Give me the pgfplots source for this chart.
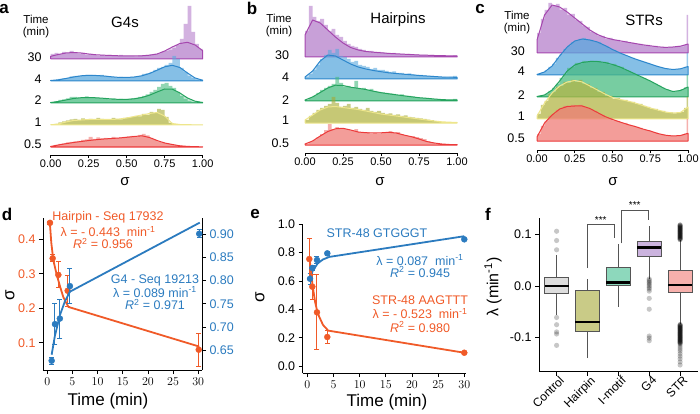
\documentclass[border=0pt]{standalone}
\usepackage{fontspec}
\setmainfont{Liberation Sans}
\usepackage{pgfplots}
\usepackage{pgfplotstable}
\pgfplotsset{compat=1.18}
\usepgfplotslibrary{statistics}

% ridge colours: L line, F histogram, D density fill
\definecolor{Lt30}{HTML}{A547AE}\definecolor{Ft30}{HTML}{B57FCB}\definecolor{Dt30}{HTML}{B57FCB}
\definecolor{Lt4}{HTML}{2D87CC}\definecolor{Ft4}{HTML}{5AA8DD}\definecolor{Dt4}{HTML}{5AA8DD}
\definecolor{Lt2}{HTML}{25A35E}\definecolor{Ft2}{HTML}{48BB80}\definecolor{Dt2}{HTML}{48BB80}
\definecolor{Lt1}{HTML}{EEE68C}\definecolor{Ft1}{HTML}{A5AA35}\definecolor{Dt1}{HTML}{EEE68C}
\definecolor{Lt05}{HTML}{EC3A3A}\definecolor{Ft05}{HTML}{EF7B76}\definecolor{Dt05}{HTML}{EF7B76}
\definecolor{orangeC}{HTML}{F05A28}
\definecolor{blueC}{HTML}{2B7BBF}
\definecolor{boxline}{HTML}{555555}
\definecolor{cCtrl}{HTML}{DDDDDD}
\definecolor{cHair}{HTML}{C9CB87}
\definecolor{cImot}{HTML}{8DD8BC}
\definecolor{cG4}{HTML}{CBB3DE}
\definecolor{cSTR}{HTML}{F7B0AC}

% ---- panel a: G4s ----
\pgfplotstableread{
x t30 t4 t2 t1 t05
0 0 0 0 0 0
0 0.5 0.05 0.05 0.02 0.1
0.025 0.6 0.1 0.15 0.1 0.2
0.05 0.5 0.2 0.3 0.25 0.3
0.075 0.7 0.25 0.35 0.35 0.35
0.1 0.6 0.3 0.45 0.45 0.45
0.125 0.8 0.45 0.6 0.55 0.5
0.15 0.6 0.5 0.6 0.6 0.55
0.175 0.5 0.5 0.5 0.5 0.6
0.2 0.6 0.55 0.55 0.65 0.7
0.225 0.4 0.6 0.65 0.55 0.75
0.25 0.5 0.6 0.5 0.6 1.0
0.275 0.4 0.55 0.55 0.5 0.8
0.3 0.3 0.5 0.5 0.7 0.95
0.325 0.4 0.6 0.45 0.6 0.85
0.35 0.3 0.5 0.4 0.55 0.9
0.375 0.4 0.45 0.35 0.5 0.8
0.4 0.3 0.4 0.45 0.7 1.0
0.425 0.3 0.35 0.35 0.6 0.9
0.45 0.4 0.4 0.4 0.55 0.95
0.475 0.3 0.3 0.35 0.7 1.0
0.5 0.3 0.35 0.4 0.75 1.05
0.525 0.3 0.4 0.45 0.8 1.1
0.55 0.25 0.45 0.5 0.9 1.0
0.575 0.35 0.5 0.6 0.85 1.2
0.6 0.3 0.7 0.7 1.1 1.3
0.625 0.4 0.75 0.85 1.0 1.15
0.65 0.45 0.9 1.1 1.3 0.9
0.675 0.5 1.1 1.3 1.2 0.7
0.7 0.55 1.3 1.6 1.6 0.55
0.725 0.7 1.4 1.9 1.5 0.45
0.75 0.8 1.6 2.0 0.8 0.35
0.775 0.9 1.8 1.7 0.2 0.3
0.8 1.1 2.5 1.5 0.05 0.2
0.825 1.4 2.2 1.1 0.02 0.15
0.85 2.0 1.3 0.7 0.02 0.1
0.875 3.5 0.9 0.4 0.01 0.08
0.9 5.3 0.5 0.2 0.01 0.05
0.925 2.7 0.3 0.1 0.01 0.04
0.95 1.5 0.15 0.05 0.01 0.03
0.975 1.0 0.05 0.02 0.01 0.02
1 1.0 0.05 0.02 0.01 0.02
1 0 0 0 0 0
}\histA
\pgfplotstableread{
x t30 t4 t2 t1 t05
0 0 0 0 0 0
0 0.27 0.05 0.05 0.02 0.05
0.05 0.45 0.12 0.15 0.1 0.2
0.1 0.6 0.25 0.3 0.3 0.33
0.15 0.65 0.4 0.45 0.45 0.45
0.2 0.6 0.52 0.53 0.5 0.55
0.25 0.5 0.57 0.55 0.55 0.65
0.3 0.42 0.55 0.52 0.55 0.73
0.35 0.38 0.5 0.47 0.55 0.8
0.4 0.35 0.42 0.4 0.55 0.85
0.45 0.32 0.36 0.36 0.6 0.9
0.5 0.3 0.35 0.36 0.7 0.97
0.55 0.3 0.4 0.42 0.85 1.05
0.6 0.32 0.52 0.55 1.0 1.12
0.65 0.38 0.75 0.78 1.15 0.95
0.7 0.5 1.08 1.1 1.25 0.65
0.75 0.8 1.42 1.4 0.9 0.4
0.8 1.2 1.57 1.38 0.15 0.25
0.85 1.55 1.35 1.0 0.05 0.12
0.9 1.67 0.8 0.5 0.03 0.06
0.95 1.4 0.3 0.18 0.02 0.03
1 0.83 0.08 0.05 0.02 0.02
1 0 0 0 0 0
0 0 0 0 0 0
}\densA

% ---- panel b: hairpins ----
\pgfplotstableread{
x t30 t4 t2 t1 t05
0 0 0 0 0 0
0 2.6 0.2 0.1 0.3 0.1
0.025 5.1 0.5 0.3 0.7 0.3
0.05 4.0 0.9 0.5 1.0 0.5
0.075 3.6 1.4 0.8 1.3 0.8
0.1 3.8 2.0 1.1 1.5 1.1
0.125 3.2 2.4 1.3 1.7 1.5
0.15 2.6 2.9 1.5 1.9 2.1
0.175 2.8 2.6 1.7 2.6 1.6
0.2 2.2 3.0 2.4 2.0 1.8
0.225 2.0 2.3 1.8 1.6 1.7
0.25 1.6 2.2 1.4 1.7 1.6
0.275 1.3 2.0 1.5 1.9 1.5
0.3 1.1 1.7 1.3 1.5 1.4
0.325 1.0 1.8 2.0 1.6 1.6
0.35 0.8 1.4 1.2 1.4 1.3
0.375 0.7 1.3 1.3 1.3 1.2
0.4 0.6 1.2 1.1 1.5 1.3
0.425 0.6 1.0 1.2 1.2 1.1
0.45 0.5 1.1 1.0 1.1 1.2
0.475 0.5 0.9 0.9 1.2 1.1
0.5 0.45 0.9 0.85 1.0 1.2
0.525 0.4 0.8 0.8 0.9 1.3
0.55 0.35 0.7 0.75 0.95 1.4
0.575 0.4 0.75 0.7 0.8 1.2
0.6 0.3 0.6 0.6 0.85 1.3
0.625 0.3 0.6 0.65 0.7 1.1
0.65 0.25 0.5 0.5 0.75 1.0
0.675 0.3 0.55 0.5 0.6 0.9
0.7 0.2 0.45 0.45 0.55 0.9
0.725 0.25 0.4 0.35 0.5 0.8
0.75 0.2 0.4 0.3 0.45 0.7
0.775 0.2 0.35 0.3 0.4 0.6
0.8 0.15 0.3 0.25 0.35 0.4
0.825 0.2 0.3 0.2 0.3 0.3
0.85 0.15 0.25 0.2 0.2 0.15
0.875 0.1 0.2 0.15 0.1 0.1
0.9 0.15 0.2 0.12 0.05 0.05
0.925 0.1 0.15 0.1 0.05 0.05
0.95 0.1 0.2 0.1 0.05 0.05
0.975 0.15 0.3 0.2 0.1 0.1
1 0.15 0.3 0.2 0.1 0.1
1 0 0 0 0 0
}\histB
\pgfplotstableread{
x t30 t4 t2 t1 t05
0 0 0 0 0 0
0 2.2 0.2 0.1 0.3 0.1
0.05 3.7 0.8 0.4 0.8 0.4
0.1 3.4 1.8 0.85 1.3 0.9
0.15 2.7 2.4 1.3 1.6 1.35
0.2 2.0 2.3 1.58 1.65 1.62
0.25 1.4 1.9 1.55 1.55 1.67
0.3 0.95 1.5 1.38 1.45 1.5
0.35 0.7 1.2 1.27 1.35 1.3
0.4 0.55 1.0 1.15 1.2 1.23
0.45 0.48 0.85 0.98 1.05 1.2
0.5 0.42 0.73 0.83 0.9 1.22
0.55 0.36 0.62 0.72 0.8 1.27
0.6 0.32 0.55 0.62 0.7 1.2
0.65 0.28 0.48 0.52 0.6 1.0
0.7 0.24 0.42 0.42 0.5 0.83
0.75 0.2 0.35 0.33 0.4 0.6
0.8 0.18 0.3 0.27 0.3 0.35
0.85 0.15 0.25 0.2 0.2 0.2
0.9 0.13 0.2 0.14 0.12 0.1
0.95 0.12 0.18 0.11 0.08 0.05
1 0.12 0.17 0.1 0.06 0.05
1 0 0 0 0 0
0 0 0 0 0 0
}\densB

% ---- panel c: STRs ----
\pgfplotstableread{
x t30 t4 t2 t1 t05
0 0 0 0 0 0
0 2.0 0.1 0.08 0.5 0.7
0.025 3.4 0.25 0.15 1.4 1.5
0.05 4.3 0.45 0.3 1.8 2.0
0.075 5.0 0.8 0.6 2.5 2.5
0.1 4.7 1.1 0.9 2.7 2.7
0.125 4.9 1.7 1.3 3.2 3.1
0.15 4.3 2.1 1.9 3.3 3.2
0.175 4.5 2.6 2.3 3.7 3.5
0.2 3.8 2.9 2.9 3.6 3.4
0.225 3.9 3.3 3.0 3.9 3.6
0.25 3.3 3.4 3.4 3.7 3.5
0.275 3.2 3.6 3.3 3.9 3.6
0.3 2.7 3.7 3.6 3.5 3.4
0.325 2.6 3.5 3.5 3.5 3.3
0.35 2.1 3.5 3.6 3.1 3.1
0.375 2.0 3.3 3.5 3.1 3.0
0.4 1.7 3.3 3.6 2.7 2.7
0.425 1.7 3.0 3.4 2.7 2.6
0.45 1.4 2.9 3.5 2.3 2.3
0.475 1.5 2.6 3.2 2.3 2.3
0.5 1.3 2.5 3.3 2.0 2.0
0.525 1.3 2.3 3.0 2.1 2.0
0.55 1.1 2.1 3.0 1.9 1.8
0.575 1.2 2.0 2.7 1.9 1.8
0.6 1.0 1.8 2.6 1.7 1.6
0.625 1.0 1.7 2.4 1.7 1.5
0.65 0.9 1.5 2.2 1.5 1.4
0.675 0.9 1.4 2.0 1.5 1.3
0.7 0.75 1.3 1.9 1.3 1.1
0.725 0.8 1.2 1.7 1.2 1.1
0.75 0.65 1.0 1.5 1.0 0.9
0.775 0.7 0.9 1.3 1.0 0.85
0.8 0.55 0.8 1.1 0.8 0.7
0.825 0.6 0.7 0.9 0.8 0.65
0.85 0.5 0.6 0.75 0.65 0.55
0.875 0.6 0.55 0.6 0.65 0.55
0.9 0.6 0.55 0.55 0.55 0.5
0.925 0.7 0.6 0.6 0.6 0.55
0.95 0.65 0.65 0.75 0.7 0.6
0.975 0.8 0.8 0.95 1.1 0.75
0.99 3.8 2.2 2.2 2.2 2.2
1 3.8 2.2 2.2 2.2 2.2
1 0 0 0 0 0
}\histC
\pgfplotstableread{
x t30 t4 t2 t1 t05
0 0 0 0 0 0
0 1.3 0.05 0.05 0.3 0.4
0.05 3.8 0.3 0.2 1.6 1.8
0.1 4.8 0.9 0.7 2.6 2.6
0.15 4.6 1.9 1.6 3.3 3.2
0.2 4.1 2.8 2.6 3.7 3.45
0.25 3.5 3.4 3.2 3.85 3.5
0.3 2.9 3.6 3.45 3.7 3.5
0.35 2.3 3.5 3.55 3.3 3.25
0.4 1.85 3.3 3.55 2.9 2.85
0.45 1.55 2.95 3.45 2.5 2.45
0.5 1.35 2.55 3.25 2.15 2.15
0.55 1.22 2.2 3.0 1.95 1.9
0.6 1.08 1.9 2.65 1.8 1.65
0.65 0.95 1.6 2.3 1.6 1.45
0.7 0.82 1.35 1.95 1.35 1.2
0.75 0.72 1.1 1.6 1.1 1.0
0.8 0.62 0.85 1.2 0.9 0.75
0.85 0.56 0.65 0.8 0.7 0.58
0.9 0.6 0.55 0.55 0.6 0.5
0.95 0.68 0.62 0.65 0.65 0.55
1 0.9 0.85 1.0 1.2 0.77
1 0 0 0 0 0
0 0 0 0 0 0
}\densC

% ---- panel d ----
\pgfplotstableread{
t s e
0.54 0.448 0.004
1.07 0.345 0.010
2.2 0.297 0.038
4.05 0.251 0.045
30.1 0.080 0.048
}\hpPts
\pgfplotstableread{
t s
0.5 0.45
0.8 0.39
1.2 0.34
1.8 0.302
2.5 0.265
3.2 0.232
4.2 0.204
30.2 0.089
}\hpFit
\pgfplotstableread{
t s e
0.87 0.627 0.008
1.53 0.706 0.045
2.5 0.718 0.042
4.5 0.788 0.037
30.2 0.901 0.009
}\gqPts
\pgfplotstableread{
t s
0.87 0.64
1.5 0.68
2.5 0.725
3.5 0.755
4.5 0.776
30.3 0.925
}\gqFit

% ---- panel e ----
\pgfplotstableread{
t s e
0.52 0.616 0.04
0.96 0.692 0.015
1.85 0.748 0.025
3.82 0.795 0.015
30 0.894 0.008
}\gtPts
\pgfplotstableread{
t s
0.5 0.6
1 0.67
2 0.725
3 0.752
4.2 0.77
30 0.916
}\gtFit
\pgfplotstableread{
t s e
0.38 0.755 0.147
0.96 0.56 0.088
1.85 0.379 0.265
3.82 0.205 0.047
30 0.094 0.006
}\aaPts
\pgfplotstableread{
t s
0.4 0.77
1 0.57
1.5 0.45
2 0.37
3 0.29
4 0.25
30 0.094
}\aaFit

\newcommand{\ridge}[4]{%
  \addplot[draw=none, fill=D#3, fill opacity=0.35] table[x=x, y expr=\thisrow{#3}+#4] {#2};
  \addplot[const plot, draw=none, fill=F#3, fill opacity=0.6] table[x=x, y expr=\thisrow{#3}+#4] {#1};
  \addplot[draw=L#3, line width=1pt, line join=round] table[x=x, y expr=\thisrow{#3}+#4] {#2};
}
\newcommand{\fs}[1]{\fontsize{#1}{#1}\selectfont}

\pgfplotsset{
  ridge/.style={anchor=south west, y=10pt, xmin=0, xmax=1, ymin=-0.8, ymax=14,
    clip=false, axis x line*=bottom, axis y line=none, ytick=\empty,
    axis line style={-, line width=0.8pt}, xtick={0,0.25,0.5,0.75,1},
    xticklabels={0.00,0.25,0.50,0.75,1.00}, tick align=outside,
    major tick length=3pt, tick style={black, line width=0.8pt},
    xticklabel style={font=\fs{11}, inner sep=2pt}},
  lower/.style={anchor=south west, scale only axis, clip=false,
    axis line style={-, line width=0.8pt}, tick align=outside,
    major tick length=4pt, tick style={black, line width=0.8pt},
    ticklabel style={font=\fs{12.5}}},
  pts/.style={only marks, mark=*, mark size=3pt, #1,
    error bars/.cd, y dir=both, y explicit,
    error bar style={line width=1pt, #1},
    error mark options={rotate=90, mark size=2.5pt, line width=1pt, #1}},
}

\begin{document}
\begin{tikzpicture}
\useasboundingbox (0pt,0pt) rectangle (700pt,-414pt);

% ===== a =====
\begin{axis}[ridge, at={(50.7pt,-155pt)}, x=152pt]
\ridge{\histA}{\densA}{t30}{8.8}
\ridge{\histA}{\densA}{t4}{6.6}
\ridge{\histA}{\densA}{t2}{4.4}
\ridge{\histA}{\densA}{t1}{2.2}
\ridge{\histA}{\densA}{t05}{0}
\end{axis}
% ===== b =====
\begin{axis}[ridge, at={(305pt,-153pt)}, x=152pt]
\ridge{\histB}{\densB}{t30}{8.8}
\ridge{\histB}{\densB}{t4}{6.6}
\ridge{\histB}{\densB}{t2}{4.4}
\ridge{\histB}{\densB}{t1}{2.2}
\ridge{\histB}{\densB}{t05}{0}
\end{axis}
% ===== c =====
\begin{axis}[ridge, at={(537pt,-150pt)}, x=151pt, ymin=-0.9]
\ridge{\histC}{\densC}{t30}{8.8}
\ridge{\histC}{\densC}{t4}{6.6}
\ridge{\histC}{\densC}{t2}{4.4}
\ridge{\histC}{\densC}{t1}{2.2}
\ridge{\histC}{\densC}{t05}{0}
\end{axis}

% headers of a-c
\begin{scope}[every node/.style={inner sep=0pt}]
\node[font=\bfseries\fs{17}] at (4pt,-9pt) {a};
\node[font=\bfseries\fs{17}] at (252pt,-8pt) {b};
\node[font=\bfseries\fs{17}] at (480pt,-9pt) {c};
\node[font=\fs{15}] at (125pt,-22pt) {G4s};
\node[font=\fs{15}] at (398pt,-19.5pt) {Hairpins};
\node[font=\fs{15}] at (644pt,-20pt) {STRs};
\foreach \xx/\yy in {36/19, 279/18, 517/15}{
  \node[font=\fs{11.5}] at (\xx pt,-\yy pt) {Time};
  \node[font=\fs{11.5}] at (\xx pt,-\yy pt-14pt) {(min)};
}
\foreach \lab/\yy in {30/56.7, 4/79, 2/100, 1/122.3, 0.5/144}
  \node[font=\fs{12.5}, anchor=east] at (41.7pt,-\yy pt) {\lab};
\foreach \lab/\yy in {30/55, 4/77.7, 2/100, 1/120.7, 0.5/142.7}
  \node[font=\fs{12.5}, anchor=east] at (289.3pt,-\yy pt) {\lab};
\foreach \lab/\yy in {30/50.7, 4/71.7, 2/95, 1/116, 0.5/137.7}
  \node[font=\fs{12.5}, anchor=east] at (525pt,-\yy pt) {\lab};
\node[font=\fs{15}] at (125pt,-182pt) {σ};
\node[font=\fs{15}] at (380pt,-182pt) {σ};
\node[font=\fs{15}] at (613pt,-182pt) {σ};
\end{scope}

% ===== d =====
\begin{axis}[lower, at={(43pt,-370pt)}, width=159pt, height=152pt,
  xmin=-0.85, xmax=30.75, ymin=0.021, ymax=0.462,
  axis x line*=bottom, axis y line*=left,
  xtick={0,5,...,30}, ytick={0.1,0.2,0.3,0.4}, yticklabels={0.1,0.2,0.3,0.4},
  yticklabel style={text=orangeC}]
\addplot[orangeC, line width=1.8pt, line join=round] table[x=t, y=s] {\hpFit};
\addplot[pts=orangeC] table[x=t, y=s, y error=e] {\hpPts};
\end{axis}
\begin{axis}[lower, at={(43pt,-370pt)}, width=159pt, height=152pt,
  xmin=-0.85, xmax=30.75, ymin=0.607, ymax=0.935,
  axis x line=none, axis y line*=right,
  ytick={0.65,0.70,0.75,0.80,0.85,0.90},
  yticklabels={0.65,0.70,0.75,0.80,0.85,0.90},
  yticklabel style={text=blueC}]
\addplot[blueC, line width=1.8pt, line join=round] table[x=t, y=s] {\gqFit};
\addplot[pts=blueC] table[x=t, y=s, y error=e] {\gqPts};
\end{axis}

% ===== e =====
\begin{axis}[lower, at={(302.7pt,-373pt)}, width=163pt, height=148.7pt,
  xmin=-0.88, xmax=30.27, ymin=-0.049, ymax=1.0,
  axis x line*=bottom, axis y line*=left,
  xtick={0,5,...,30}, ytick={0,0.2,0.4,0.6,0.8,1.0},
  yticklabels={0.0,0.2,0.4,0.6,0.8,1.0}]
\addplot[blueC, line width=1.8pt, line join=round] table[x=t, y=s] {\gtFit};
\addplot[pts=blueC] table[x=t, y=s, y error=e] {\gtPts};
\addplot[orangeC, line width=1.8pt, line join=round] table[x=t, y=s] {\aaFit};
\addplot[pts=orangeC] table[x=t, y=s, y error=e] {\aaPts};
\end{axis}

% ===== f =====
\begin{axis}[lower, at={(539pt,-371.7pt)}, width=159pt, height=153.4pt,
  xmin=0.43, xmax=5.58, ymin=-0.166, ymax=0.131,
  axis x line*=bottom, axis y line*=left,
  xtick={1,2,3,4,5}, xticklabels={Control,Hairpin,I-motif,G4,STR},
  xticklabel style={rotate=45, anchor=north east, inner sep=1pt, xshift=3pt, font=\fs{12}},
  ytick={-0.1,0,0.1}, yticklabels={-0.1,0.0,0.1},
  boxplot/draw direction=y,
  boxplot/every median/.style={draw=black, line width=2.6pt},
  boxplot/every whisker/.style={draw=boxline, line width=1.2pt},
  boxplot/every box/.style={draw=boxline, line width=1pt}]
\addplot[boxplot prepared={median=0, upper quartile=0.017, lower quartile=-0.014,
  upper whisker=0.060, lower whisker=-0.056, draw position=1, box extend=0.78,
  whisker extend=0}, fill=cCtrl, draw=boxline] coordinates {};
\addplot[boxplot prepared={median=-0.070, upper quartile=-0.0097, lower quartile=-0.0874,
  upper whisker=0.013, lower whisker=-0.140, draw position=2, box extend=0.78,
  whisker extend=0}, fill=cHair, draw=boxline] coordinates {};
\addplot[boxplot prepared={median=0.0065, upper quartile=0.036, lower quartile=0.0,
  upper whisker=0.081, lower whisker=-0.040, draw position=3, box extend=0.78,
  whisker extend=0}, fill=cImot, draw=boxline] coordinates {};
\addplot[boxplot prepared={median=0.074, upper quartile=0.086, lower quartile=0.057,
  upper whisker=0.116, lower whisker=0.0135, draw position=4, box extend=0.78,
  whisker extend=0}, fill=cG4, draw=boxline] coordinates {};
\addplot[boxplot prepared={median=0.0015, upper quartile=0.029, lower quartile=-0.012,
  upper whisker=0.089, lower whisker=-0.074, draw position=5, box extend=0.78,
  whisker extend=0}, fill=cSTR, draw=boxline] coordinates {};
% outliers
\addplot[only marks, mark=*, mark size=2.6pt, draw=none, fill=black,
  mark options={draw opacity=0, fill=black, fill opacity=0.22}] coordinates {
 (1,0.106) (1,0.088) (1,0.070) (1,-0.061) (1,-0.075) (1,-0.089) (1,-0.093) (1,-0.115)
 (4,0.0135) (4,0.011) (4,0.008) (4,0.006) (4,0.003) (4,0.0) (4,-0.003) (4,-0.006)
 (4,-0.010) (4,-0.024) (4,-0.045) (4,-0.097) (4,-0.101) (4,-0.106)
 (5,0.090) (5,0.092) (5,0.094) (5,0.096) (5,0.098) (5,0.100) (5,0.102) (5,0.104)
 (5,0.106) (5,0.108) (5,0.110) (5,0.112) (5,0.114) (5,0.116) (5,0.118)
 (5,0.090) (5,0.092) (5,0.094) (5,0.096) (5,0.098) (5,0.100) (5,0.102) (5,0.104)
 (5,0.106) (5,0.108) (5,0.110) (5,0.112) (5,0.114) (5,0.116) (5,0.118)
 (5,-0.075) (5,-0.077) (5,-0.079) (5,-0.081) (5,-0.083) (5,-0.085) (5,-0.087)
 (5,-0.089) (5,-0.091) (5,-0.093) (5,-0.095) (5,-0.097) (5,-0.099) (5,-0.101)
 (5,-0.103) (5,-0.105) (5,-0.107) (5,-0.109) (5,-0.111)
 (5,-0.075) (5,-0.077) (5,-0.079) (5,-0.081) (5,-0.083) (5,-0.085) (5,-0.087)
 (5,-0.089) (5,-0.091) (5,-0.093) (5,-0.095) (5,-0.097) (5,-0.099) (5,-0.101)
 (5,-0.103) (5,-0.105) (5,-0.107) (5,-0.109) (5,-0.111)
 (5,-0.114) (5,-0.118) (5,-0.122) (5,-0.126) (5,-0.131) (5,-0.136) (5,-0.141)
 (5,-0.147) (5,-0.153)};
% significance brackets
\addplot[boxline, line width=1pt] coordinates {(2,0.0343) (2,0.1195) (2.86,0.1195) (2.86,0.0923)};
\addplot[boxline, line width=1pt] coordinates {(3.1,0.0826) (3.1,0.147) (3.97,0.147) (3.97,0.128)};
\node[font=\fs{10}, anchor=south, inner sep=1pt] at (axis cs:2.43,0.1195) {***};
\node[font=\fs{10}, anchor=south, inner sep=1pt] at (axis cs:3.53,0.147) {***};
\end{axis}

% texts of d-f
\begin{scope}[every node/.style={inner sep=0pt}]
\node[font=\bfseries\fs{17}] at (7pt,-214pt) {d};
\node[font=\bfseries\fs{17}] at (255pt,-214pt) {e};
\node[font=\bfseries\fs{17}] at (488pt,-214pt) {f};
\node[font=\fs{17}, rotate=90] at (10pt,-295pt) {σ};
\node[font=\fs{17}] at (108pt,-401pt) {Time (min)};
\node[font=\fs{17}, rotate=90] at (260pt,-297pt) {σ};
\node[font=\fs{17}] at (387pt,-402pt) {Time (min)};
\node[font=\fs{16}, rotate=90] at (493pt,-287pt) {λ (min\textsuperscript{-1})};
\begin{scope}[font=\fs{12.5}, text=orangeC]
\node at (108pt,-217.5pt) {Hairpin - Seq 17932};
\node at (108pt,-231.5pt) {λ = - 0.443~ min\textsuperscript{-1}};
\node at (103pt,-243.5pt) {\textit{R}\textsuperscript{2} = 0.956};
\node at (420pt,-300pt) {STR-48 AAGTTT};
\node at (420pt,-313.5pt) {λ = - 0.523~ min\textsuperscript{-1}};
\node at (420pt,-327pt) {\textit{R}\textsuperscript{2} = 0.980};
\end{scope}
\begin{scope}[font=\fs{12.5}, text=blueC]
\node at (155pt,-280pt) {G4 - Seq 19213};
\node at (155pt,-292pt) {λ = 0.089 min\textsuperscript{-1}};
\node at (155pt,-304.5pt) {\textit{R}\textsuperscript{2} = 0.971};
\node at (377pt,-233.5pt) {STR-48 GTGGGT};
\node at (420pt,-260pt) {λ = 0.087~ min\textsuperscript{-1}};
\node at (420pt,-272pt) {\textit{R}\textsuperscript{2} = 0.945};
\end{scope}
\end{scope}
\end{tikzpicture}
\end{document}
